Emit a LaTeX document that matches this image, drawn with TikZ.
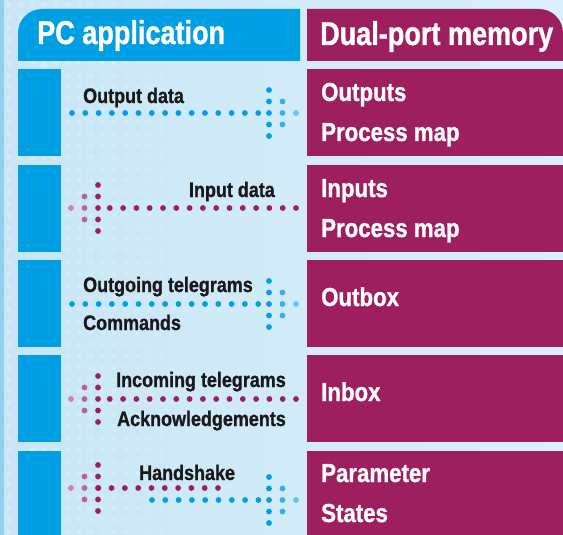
\documentclass[tikz,border=0pt]{standalone}
\usepackage{fontspec}
\setmainfont{Liberation Sans}[FakeStretch=0.82, BoldFeatures={FakeBold=1}]
\newfontfamily\rowfont{Liberation Sans}[FakeStretch=0.855, BoldFeatures={FakeBold=1}]
\usepackage{xcolor}
\usetikzlibrary{positioning}

\definecolor{pcblue}{HTML}{009FE3}
\definecolor{plum}{HTML}{9E1F5E}
\definecolor{skyleft}{HTML}{C8E6F6}
\definecolor{skyright}{HTML}{DAF0FA}
\definecolor{skyedge}{HTML}{8ED0F3}

\tikzset{
  tab/.style={inner sep=0pt, anchor=base west, text=white, font=\fontsize{33}{36}\selectfont\bfseries},
  memtext/.style={inner sep=0pt, anchor=base west, text=white, font=\rowfont\fontsize{26}{30}\selectfont\bfseries},
  lbl/.style={inner sep=0pt, text=black!90, font=\rowfont\fontsize{21}{24}\selectfont\bfseries},
  bluedots/.style={draw=pcblue, line width=5.8pt, line cap=round, dash pattern=on 0pt off 13.3pt},
  plumdots/.style={bluedots, draw=plum},
  bluehead/.pic={
    \foreach \v in {-23,-11.5,0,11.5,23} \fill[pcblue] (0,\v) circle (2.9);
    \foreach \v in {-11.5,0,11.5} \fill[pcblue!80!white] (13.5,\v) circle (2.9);
    \fill[pcblue!60!white] (27,0) circle (2.9);
  },
  plumhead/.pic={
    \foreach \v in {-23,-11.5,0,11.5,23} \fill[plum] (0,\v) circle (2.9);
    \foreach \v in {-11.5,0,11.5} \fill[plum!70!white] (13.5,\v) circle (2.9);
    \fill[plum!55!white] (27,0) circle (2.9);
  }
}

\begin{document}
\begin{tikzpicture}[x=1pt, y=-1pt]
  \useasboundingbox (0,0) rectangle (563,535);
  \clip (0,0) rectangle (563,535);

  % background
  \shade[left color=skyleft, right color=skyright] (0,0) rectangle (563,535);
  \fill[skyedge] (0,0) rectangle (4,535);
  \foreach \gx [evaluate=\gx as \op using 0.25-0.01*\gx] in {0,...,25}
    \foreach \gy in {0,...,45}
      \fill[white, opacity=\op] ({9+11.7*\gx},{5+11.7*\gy}) circle (2.5);

  % headers
  \fill[pcblue] (18,61) -- (18,33) arc[start angle=180, end angle=270, radius=24] -- (300,9) -- (300,61) -- cycle;
  \fill[plum] (307,61) -- (307,9) -- (539,9) arc[start angle=270, end angle=360, radius=24] -- (563,61) -- cycle;
  \node[tab] (pcapp) at (37,44) {PC application};
  \node[tab] (dpm) at (320,45) {Dual-port memory};

  % rows
  \foreach \t in {69,165,260,355,451} {
    \fill[pcblue] (18,\t) rectangle (61,\t+87);
    \fill[plum] (307,\t) rectangle (563,\t+87);
  }

  \node[memtext] (outputs) at (321,101) {Outputs};
  \node[memtext] (pmapout) at (321,141) {Process map};
  \node[memtext] (inputs) at (321,197) {Inputs};
  \node[memtext] (pmapin) at (321,237) {Process map};
  \node[memtext] (outbox) at (321,306) {Outbox};
  \node[memtext] (inbox) at (321,401) {Inbox};
  \node[memtext] (param) at (321,482) {Parameter};
  \node[memtext] (states) at (321,522) {States};

  % labels
  \node[lbl, anchor=base west] (outdata) at (83,103) {Output data};
  \node[lbl, anchor=base east] (indata) at (275,197) {Input data};
  \node[lbl, anchor=base west] (outtel) at (83,292) {Outgoing telegrams};
  \node[lbl, anchor=base west] (cmds) at (83,330) {Commands};
  \node[lbl, anchor=base east] (intel) at (286,387) {Incoming telegrams};
  \node[lbl, anchor=base east] (acks) at (286,426) {Acknowledgements};
  \node[lbl, anchor=base west] (hshake) at (139,480) {Handshake};

  % dotted arrows
  \coordinate (outdata-a) at (72,113);  \coordinate (outdata-h) at (269,113);
  \coordinate (indata-a) at (296,208);  \coordinate (indata-h) at (98,208);
  \coordinate (outtel-a) at (72,304);   \coordinate (outtel-h) at (269,304);
  \coordinate (intel-a) at (296,399);   \coordinate (intel-h) at (98,399);
  \coordinate (hsin-a) at (218,488);    \coordinate (hsin-h) at (98,488);
  \coordinate (hsout-a) at (152,500);   \coordinate (hsout-h) at (269,500);

  \draw[bluedots] (outdata-a) -- (outdata-h);
  \pic at (outdata-h) {bluehead};
  \draw[plumdots] (indata-a) -- (indata-h);
  \pic[xscale=-1] at (indata-h) {plumhead};
  \draw[bluedots] (outtel-a) -- (outtel-h);
  \pic at (outtel-h) {bluehead};
  \draw[plumdots] (intel-a) -- (intel-h);
  \pic[xscale=-1] at (intel-h) {plumhead};
  \draw[plumdots] (hsin-a) -- (hsin-h);
  \pic[xscale=-1] at (hsin-h) {plumhead};
  \draw[bluedots] (hsout-a) -- (hsout-h);
  \pic at (hsout-h) {bluehead};
\end{tikzpicture}
\end{document}
